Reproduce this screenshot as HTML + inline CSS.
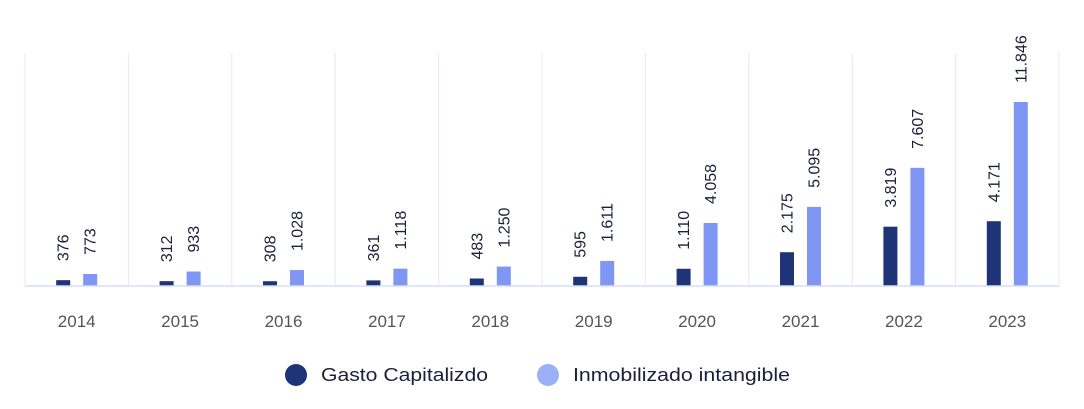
<!DOCTYPE html>
<html><head><meta charset="utf-8"><style>
body{margin:0;background:#fff;width:1084px;height:409px;overflow:hidden;font-family:"Liberation Sans",sans-serif;}
svg{display:block}
</style></head><body>
<svg id="chart" width="1084" height="409" xmlns="http://www.w3.org/2000/svg">
<g id="grid"></g>
<g id="bars"></g>
<g id="labels"></g>
<g id="xaxis"></g>
<g>
  <g>
    <circle cx="296" cy="375" r="11" fill="#1e3476"/>
    <text x="321" y="381" font-size="18" fill="#1a1f3a" textLength="167" lengthAdjust="spacingAndGlyphs">Gasto Capitalizdo</text>
  </g>
  <g>
    <circle cx="548" cy="375" r="11" fill="#9ab0f7"/>
    <text x="573" y="381" font-size="18" fill="#1a1f3a" textLength="217" lengthAdjust="spacingAndGlyphs">Inmobilizado intangible</text>
  </g>
</g>
</svg>
<script>
const categories = ["2014","2015","2016","2017","2018","2019","2020","2021","2022","2023"];
const gastoValues = [376,312,308,361,483,595,1110,2175,3819,4171];
const inmovValues = [773,933,1028,1118,1250,1611,4058,5095,7607,11846];
const gastoLabels = ["376","312","308","361","483","595","1.110","2.175","3.819","4.171"];
const inmovLabels = ["773","933","1.028","1.118","1.250","1.611","4.058","5.095","7.607","11.846"];

const NS="http://www.w3.org/2000/svg";
const plotLeft=25,plotRight=1059,plotTop=53,plotBase=286;
const bw=(plotRight-plotLeft)/categories.length;
const scale=184/11846;
const xBand=i=>plotLeft+i*bw;
const yPos=v=>plotBase-v*scale;
function mk(tag,attrs,parent){const e=document.createElementNS(NS,tag);for(const k in attrs)e.setAttribute(k,attrs[k]);parent.appendChild(e);return e;}
const gGrid=document.getElementById('grid'),gBars=document.getElementById('bars'),gLabels=document.getElementById('labels'),gX=document.getElementById('xaxis');
for(let i=0;i<=categories.length;i++){
  const l=mk('line',{x1:xBand(i),x2:xBand(i),y1:plotTop,y2:plotBase,stroke:'#e3e8f8','stroke-width':1},gGrid);
  
  
}
const bl=mk('line',{x1:plotLeft,x2:plotRight,y1:plotBase,y2:plotBase,stroke:'#d5ddf7','stroke-width':1.5},gX);


categories.forEach((c,i)=>{
  const cx=xBand(i)+bw/2;
  const series=[[gastoValues[i],gastoLabels[i],cx-13.5,'#1e3476','gasto'],[inmovValues[i],inmovLabels[i],cx+13.5,'#7f96f5','inmov']];
  series.forEach(([v,lab,bx,col,nm])=>{
    const r=mk('rect',{x:bx-7,y:yPos(v),width:14,height:plotBase-yPos(v),fill:col},gBars);
    
    
    const ty=yPos(v)-19;
    const t=mk('text',{x:0,y:0,transform:`translate(${bx+5.5},${ty}) rotate(-90)`,'font-size':16,fill:'#1a1f3a'},gLabels);
    t.textContent=lab;
    
    
  });
  const t=mk('text',{x:cx,y:327,'text-anchor':'middle','font-size':17,fill:'#555'},gX);
  t.textContent=c;
  
  
});
</script>
</body></html>
